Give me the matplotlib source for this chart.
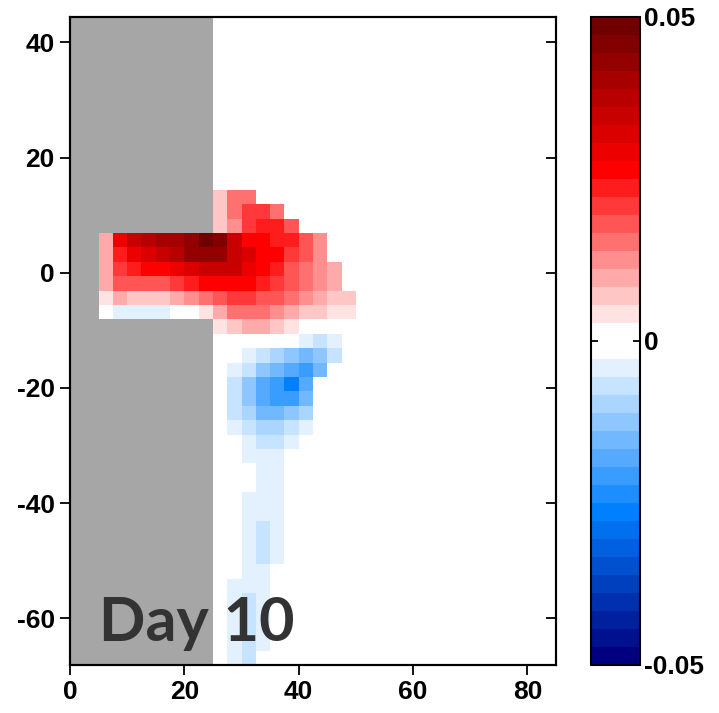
import numpy as np
import matplotlib
matplotlib.use("Agg")
import matplotlib.pyplot as plt
from matplotlib.colors import ListedColormap, BoundaryNorm

plt.rcParams["axes.unicode_minus"] = False

# grid: 2.5 x 2.5 cells, x 0..85, y -68.1..44.4
x_edges = np.arange(0, 85.01, 2.5)
y_edges = -68.1 + 2.5 * np.arange(46)

# anomaly block (x1e-3), columns x = 5 .. 50, rows from y = 14.4 down to y = -68.1
# nan = land
n = np.nan
anom_rows = [
    [n, n, n, n, n, n, n, n, 7, 15, 15, 0, 0, 0, 0, 0, 0, 0],
    [n, n, n, n, n, n, n, n, 7, 15, 21, 21, 15, 0, 0, 0, 0, 0],
    [n, n, n, n, n, n, n, n, 7, 12, 21, 24, 24, 18, 0, 0, 0, 0],
    [10, 29, 35, 38, 40, 40, 43, 49, 46, 35, 26, 26, 24, 24, 18, 12, 0, 0],
    [10, 24, 29, 32, 35, 38, 43, 43, 43, 35, 32, 26, 26, 21, 18, 12, 0, 0],
    [10, 21, 24, 26, 26, 29, 32, 35, 35, 35, 29, 26, 24, 18, 15, 12, 10, 0],
    [10, 18, 18, 18, 18, 21, 24, 26, 26, 26, 26, 24, 21, 18, 15, 12, 10, 0],
    [4, 10, 7, 7, 7, 10, 12, 15, 18, 21, 21, 18, 18, 15, 12, 10, 7, 7],
    [0, -4, -4, -4, -4, 0, 0, 4, 10, 15, 15, 15, 12, 10, 7, 7, 4, 4],
    [n, n, n, n, n, n, n, n, 4, 7, 10, 10, 7, 4, 0, 0, 0, 0],
    [n, n, n, n, n, n, n, n, 0, 0, 0, 0, 0, 0, -4, -7, -4, 0],
    [n, n, n, n, n, n, n, n, 0, 0, -4, -7, -10, -12, -15, -12, -7, 0],
    [n, n, n, n, n, n, n, n, 0, -4, -7, -12, -15, -18, -21, -15, 0, 0],
    [n, n, n, n, n, n, n, n, 0, -7, -12, -18, -21, -26, -18, 0, 0, 0],
    [n, n, n, n, n, n, n, n, 0, -7, -12, -18, -21, -21, -15, 0, 0, 0],
    [n, n, n, n, n, n, n, n, 0, -7, -10, -15, -15, -12, -10, 0, 0, 0],
    [n, n, n, n, n, n, n, n, 0, -4, -7, -10, -10, -7, -4, 0, 0, 0],
    [n, n, n, n, n, n, n, n, 0, 0, -4, -7, -7, -4, 0, 0, 0, 0],
    [n, n, n, n, n, n, n, n, 0, 0, -4, -4, -4, 0, 0, 0, 0, 0],
    [n, n, n, n, n, n, n, n, 0, 0, 0, -4, -4, 0, 0, 0, 0, 0],
    [n, n, n, n, n, n, n, n, 0, 0, 0, -4, -4, 0, 0, 0, 0, 0],
    [n, n, n, n, n, n, n, n, 0, 0, -4, -4, -4, 0, 0, 0, 0, 0],
    [n, n, n, n, n, n, n, n, 0, 0, -4, -4, -4, 0, 0, 0, 0, 0],
    [n, n, n, n, n, n, n, n, 0, 0, -4, -7, -4, 0, 0, 0, 0, 0],
    [n, n, n, n, n, n, n, n, 0, 0, -4, -7, -4, 0, 0, 0, 0, 0],
    [n, n, n, n, n, n, n, n, 0, 0, -4, -7, -4, 0, 0, 0, 0, 0],
    [n, n, n, n, n, n, n, n, 0, 0, -4, -4, 0, 0, 0, 0, 0, 0],
    [n, n, n, n, n, n, n, n, 0, -4, -4, -4, 0, 0, 0, 0, 0, 0],
    [n, n, n, n, n, n, n, n, 0, -4, -7, -4, 0, 0, 0, 0, 0, 0],
    [n, n, n, n, n, n, n, n, 0, -4, -7, -4, 0, 0, 0, 0, 0, 0],
    [n, n, n, n, n, n, n, n, 0, -4, -7, -4, 0, 0, 0, 0, 0, 0],
    [n, n, n, n, n, n, n, n, 0, -4, -7, -4, 0, 0, 0, 0, 0, 0],
    [n, n, n, n, n, n, n, n, 0, -4, -7, 0, 0, 0, 0, 0, 0, 0],
]
block_col0 = 2      # first block column (x = 5)
coast_x = 25.0      # land west of this except where the block has values

x_tick_vals = [0, 20, 40, 60, 80]
y_tick_vals = [-60, -40, -20, 0, 20, 40]
cbar_ticks = [-0.05, 0, 0.05]
cbar_labels = ["-0.05", "0", "0.05"]
label_text = "Day 10"

# assemble the field
x_mid = 0.5 * (x_edges[:-1] + x_edges[1:])
field = np.zeros((len(y_edges) - 1, len(x_edges) - 1))
field[:, x_mid < coast_x] = np.nan
block = np.array(anom_rows, dtype=float)[::-1] * 1e-3
field[:block.shape[0], block_col0:block_col0 + block.shape[1]] = block

# 36-band blue/white/red palette
reds = []
for k in range(1, 18):
    if k <= 9:
        f = 1 - k / 9
        reds.append((1.0, f, f))
    else:
        reds.append((1 - (k - 9) * 0.56 / 8, 0.0, 0.0))
blues = []
for k in range(1, 18):
    if k <= 9:
        f = k / 9
        blues.append((1 - f, 1 - 0.5 * f, 1.0))
    else:
        t = (k - 9) / 8
        blues.append((0.0, 0.5 * (1 - t), 1 - 0.5 * t))
colors = blues[::-1] + [(1, 1, 1), (1, 1, 1)] + reds
cmap = ListedColormap(colors)
cmap.set_bad("#a6a6a6")
norm = BoundaryNorm(np.linspace(-0.05, 0.05, 37), cmap.N)

tick_font = dict(family=["Liberation Sans Narrow", "Liberation Sans", "DejaVu Sans"],
                 weight="bold", size=19)

fig = plt.figure(figsize=(7.19, 7.13), dpi=100)
ax = fig.add_axes([70 / 719, 48 / 713, 486 / 719, 648 / 713])
mesh = ax.pcolormesh(x_edges, y_edges, np.ma.masked_invalid(field), cmap=cmap, norm=norm)

ax.set_xlim(x_edges[0], x_edges[-1])
ax.set_ylim(y_edges[0], y_edges[-1])
ax.set_xticks(x_tick_vals)
ax.set_yticks(y_tick_vals)
ax.set_xticklabels([str(v) for v in x_tick_vals], fontdict=tick_font)
ax.set_yticklabels([str(v) for v in y_tick_vals], fontdict=tick_font)
ax.tick_params(direction="out", length=7, width=1.3, pad=4)
for sp in ax.spines.values():
    sp.set_linewidth(1.5)

# inward marks along the right edge
ax_r = ax.twinx()
ax_r.set_ylim(ax.get_ylim())
ax_r.set_yticks(y_tick_vals)
ax_r.tick_params(direction="in", length=7, width=1.3, labelright=False)
for sp in ax_r.spines.values():
    sp.set_linewidth(1.5)

ax_r.text(5.0, -63.9, label_text, fontsize=44, fontweight="bold", color="#333333",
          family=["Lato", "DejaVu Sans"], ha="left", va="baseline", zorder=5)

cax = fig.add_axes([591 / 719, 48 / 713, 49 / 719, 648 / 713])
cb = fig.colorbar(mesh, cax=cax, ticks=cbar_ticks)
cb.minorticks_off()
cb.ax.set_yticklabels(cbar_labels, fontdict=tick_font)
cb.ax.tick_params(direction="in", length=5, width=1.3, left=True, right=True, pad=3)
cb.outline.set_linewidth(1.5)

fig.savefig("out.png", dpi=100)
